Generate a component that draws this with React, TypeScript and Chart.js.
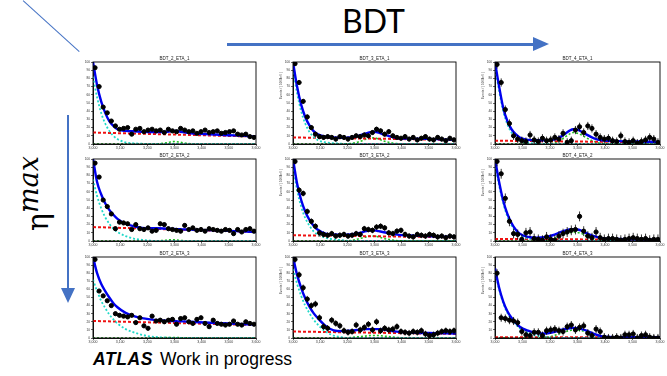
import React, { useEffect, useRef } from "react";
import { Chart, registerables } from "chart.js";

Chart.register(...registerables);

// ---------- axis definitions ----------
const X_MIN = 3000;
const BIN_W = 15;
const N_BINS = 40;
const X_TICKS = [3000, 3100, 3200, 3300, 3400, 3500, 3600];
const Y_TICKS_STEP = 10;
const KNOT_BINS = [0, 1, 2, 3, 4, 5, 6, 8, 10, 12, 14, 16, 18, 19, 20, 21, 22, 24, 26, 30, 35, 40];

// ---------- data (percent of y-range) ----------
const PTS_B2E1 = [93, 70, 45, 38, 28, 22, 18, 19, 20, 12, 18, 19, 15, 17, 18, 16, 17, 14, 18, 16, 15, 19, 17, 15, 16, 13, 15, 17, 14, 15, 16, 13, 14, 15, 16, 12, 11, 12, 9, 8];
const FIT_B2E1 = [100, 72, 52, 38, 28, 22, 18, 16, 15.5, 15, 14.5, 14.5, 15, 15.5, 16, 15.5, 14.5, 13, 12.5, 11.5, 10.5, 9];
const EXP_B2E1 = [82, 57, 38, 25, 16, 10, 6, 2, 0.8, 0.3, 0, 0, 0, 0, 0, 0, 0, 0, 0, 0, 0, 0];
const SIG_B2E1 = [0, 0, 0, 0, 0, 0, 0, 0, 0, 0, 0, 0.3, 1.5, 2.5, 3, 2.5, 1.5, 0.3, 0, 0, 0, 0];
const BKG_B2E1 = [14, 9];

const PTS_B3E1 = [98, 75, 52, 33, 20, 12, 9, 8, 9, 8, 6, 9, 8, 6, 8, 10, 9, 11, 10, 14, 18, 16, 12, 15, 10, 8, 7, 9, 6, 8, 5, 7, 9, 6, 5, 8, 6, 4, 7, 5];
const FIT_B3E1 = [100, 70, 48, 33, 23, 16, 12, 9, 8, 7.5, 8, 10, 13, 14.5, 15, 14, 12, 9, 7, 6.5, 6, 5];
const EXP_B3E1 = [92, 62, 40, 25, 15, 9, 5, 2, 1, 0.3, 0, 0, 0, 0, 0, 0, 0, 0, 0, 0, 0, 0];
const SIG_B3E1 = [0, 0, 0, 0, 0, 0, 0, 0, 0, 0, 0.5, 2.5, 6, 7.5, 7.5, 6, 4, 1.5, 0.3, 0, 0, 0];
const BKG_B3E1 = [8, 5];

const PTS_B4E1 = [97, 75, 42, 25, 10, 6, 4, 3, 11, 5, 3, 7, 4, 5, 8, 6, 13, 2, 4, 17, 21, 14, 22, 19, 12, 8, 6, 7, 4, 3, 10, 3, 2, 4, 1, 3, 5, 8, 6, 2];
const FIT_B4E1 = [100, 70, 44, 28, 18, 12, 8, 5, 4.5, 4.5, 5, 9, 16, 18, 17.5, 15, 12, 7, 4.5, 3.5, 3, 2.5];
const EXP_B4E1 = [95, 65, 40, 24, 14, 8, 4, 1.5, 0.5, 0, 0, 0, 0, 0, 0, 0, 0, 0, 0, 0, 0, 0];
const SIG_B4E1 = [0, 0, 0, 0, 0, 0, 0, 0, 0, 0, 1, 5, 12, 14, 13, 11, 8, 3, 0.5, 0, 0, 0];
const BKG_B4E1 = [4, 2];

const PTS_B2E2 = [95, 78, 50, 42, 33, 15, 23, 22, 21, 14, 20, 15, 14, 16, 12, 13, 21, 20, 15, 14, 13, 12, 19, 14, 16, 13, 14, 12, 15, 14, 13, 12, 14, 13, 9, 14, 11, 14, 15, 12];
const FIT_B2E2 = [100, 72, 57, 46, 38, 32, 27, 21, 18, 16, 15.5, 15.5, 15, 14.8, 14.6, 14.4, 14.2, 14, 13.5, 13, 12, 11];
const EXP_B2E2 = [75, 55, 40, 29, 21, 15, 11, 6, 3, 1.5, 0.5, 0, 0, 0, 0, 0, 0, 0, 0, 0, 0, 0];
const SIG_B2E2 = [0, 0, 0, 0, 0, 0, 0, 0, 0, 0, 0, 0.3, 1, 1.5, 1.5, 1, 0.5, 0, 0, 0, 0, 0];
const BKG_B2E2 = [17, 11];

const PTS_B3E2 = [97, 62, 58, 36, 24, 18, 10, 8, 7, 9, 6, 7, 8, 6, 7, 9, 8, 15, 14, 13, 17, 18, 16, 10, 9, 12, 13, 8, 6, 5, 8, 7, 6, 8, 7, 5, 6, 4, 6, 5];
const FIT_B3E2 = [100, 70, 50, 36, 26, 19, 14, 9, 8, 7.5, 8, 9.5, 12, 13, 13, 12, 11, 9, 7.5, 6.5, 5.5, 5];
const EXP_B3E2 = [92, 62, 42, 28, 19, 12, 8, 4, 2, 1, 0, 0, 0, 0, 0, 0, 0, 0, 0, 0, 0, 0];
const SIG_B3E2 = [0, 0, 0, 0, 0, 0, 0, 0, 0, 0, 0.5, 2.5, 5, 6, 6, 5, 3.5, 1.5, 0.3, 0, 0, 0];
const BKG_B3E2 = [7, 4.5];

const PTS_B4E2 = [97, 82, 52, 24, 9, 8, 2, 10, 11, 3, 2, 1, 5, 2, 1, 6, 9, 11, 13, 14, 30, 12, 6, 4, 11, 4, 2, 3, 3, 2, 1, 2, 3, 4, 3, 2, 3, 1, 2, 2];
const FIT_B4E2 = [100, 72, 49, 33, 22, 14, 9, 5, 4, 4.5, 7, 11, 14, 14.5, 14, 12.5, 10, 6, 3.5, 2.5, 2, 1.5];
const EXP_B4E2 = [95, 68, 46, 30, 19, 12, 7, 3, 1, 0, 0, 0, 0, 0, 0, 0, 0, 0, 0, 0, 0, 0];
const SIG_B4E2 = [0, 0, 0, 0, 0, 0, 0, 0, 0, 0.5, 2.5, 6.5, 10, 11, 10.5, 9, 6.5, 2.5, 0.5, 0, 0, 0];
const BKG_B4E2 = [2.5, 1.5];

const PTS_B2E3 = [97, 58, 52, 46, 40, 30, 28, 27, 26, 28, 19, 25, 15, 12, 27, 21, 22, 20, 22, 23, 17, 24, 25, 20, 18, 23, 25, 18, 14, 22, 18, 17, 16, 17, 21, 17, 16, 20, 18, 17];
const FIT_B2E3 = [100, 80, 67, 58, 50, 43, 38, 31, 27, 24.5, 23, 22, 21.5, 21, 21, 20.5, 20.5, 20, 19.5, 18.5, 17.5, 16.5];
const EXP_B2E3 = [72, 58, 46, 37, 29, 23, 18, 11, 7, 4, 2, 1, 0.5, 0.3, 0.2, 0, 0, 0, 0, 0, 0, 0];
const SIG_B2E3 = [0, 0, 0, 0, 0, 0, 0, 0, 0, 0, 0, 0.2, 0.5, 0.6, 0.6, 0.5, 0.3, 0, 0, 0, 0, 0];
const BKG_B2E3 = [21, 16];

const PTS_B3E3 = [97, 78, 62, 48, 40, 42, 25, 14, 12, 22, 18, 15, 9, 7, 8, 16, 10, 13, 17, 10, 20, 9, 12, 10, 11, 14, 8, 7, 6, 8, 7, 9, 5, 3, 4, 6, 8, 9, 8, 9];
const FIT_B3E3 = [100, 78, 62, 49, 39, 31, 25, 15, 9.5, 8.5, 9, 10, 11, 11, 11, 11, 10.5, 9, 7.5, 6.5, 6, 5.5];
const EXP_B3E3 = [85, 67, 52, 40, 31, 23, 17, 8, 3, 1, 0, 0, 0, 0, 0, 0, 0, 0, 0, 0, 0, 0];
const SIG_B3E3 = [0, 0, 0, 0, 0, 0, 0, 0, 0, 0, 0.5, 1.5, 2.5, 3, 3, 3, 2.5, 1.5, 0.5, 0, 0, 0];
const BKG_B3E3 = [8, 5];

const PTS_B4E3 = [80, 25, 24, 22, 21, 19, 8, 4, 3, 7, 7, 3, 9, 10, 11, 9, 8, 14, 16, 10, 13, 15, 6, 3, 11, 8, 1, 0, 0, 1, 0, 4, 4, 5, 0, 3, 4, 1, 0, 0];
const FIT_B4E3 = [86, 62, 45, 33, 25, 19, 14, 9, 6, 5.5, 7, 10, 12, 12.5, 12, 11, 9.5, 5, 2, 1, 1, 1];
const EXP_B4E3 = [84, 60, 43, 31, 23, 17, 12, 6.5, 3, 1.5, 0.5, 0, 0, 0, 0, 0, 0, 0, 0, 0, 0, 0];
const SIG_B4E3 = [0, 0, 0, 0, 0, 0, 0, 0, 0, 0.5, 2.5, 6, 9, 10, 10, 9, 7.5, 3.5, 1, 0, 0, 0];
const BKG_B4E3 = [1, 1];

const TITLES = [
  "BDT_2_ETA_1", "BDT_3_ETA_1", "BDT_4_ETA_1",
  "BDT_2_ETA_2", "BDT_3_ETA_2", "BDT_4_ETA_2",
  "BDT_2_ETA_3", "BDT_3_ETA_3", "BDT_4_ETA_3",
];
const ERRS = [2, 3, 5, 2.5, 3.5, 6, 2.5, 4, 5];

const PANELS = [
  { pts: PTS_B2E1, fit: FIT_B2E1, exp: EXP_B2E1, sig: SIG_B2E1, bkg: BKG_B2E1 },
  { pts: PTS_B3E1, fit: FIT_B3E1, exp: EXP_B3E1, sig: SIG_B3E1, bkg: BKG_B3E1 },
  { pts: PTS_B4E1, fit: FIT_B4E1, exp: EXP_B4E1, sig: SIG_B4E1, bkg: BKG_B4E1 },
  { pts: PTS_B2E2, fit: FIT_B2E2, exp: EXP_B2E2, sig: SIG_B2E2, bkg: BKG_B2E2 },
  { pts: PTS_B3E2, fit: FIT_B3E2, exp: EXP_B3E2, sig: SIG_B3E2, bkg: BKG_B3E2 },
  { pts: PTS_B4E2, fit: FIT_B4E2, exp: EXP_B4E2, sig: SIG_B4E2, bkg: BKG_B4E2 },
  { pts: PTS_B2E3, fit: FIT_B2E3, exp: EXP_B2E3, sig: SIG_B2E3, bkg: BKG_B2E3 },
  { pts: PTS_B3E3, fit: FIT_B3E3, exp: EXP_B3E3, sig: SIG_B3E3, bkg: BKG_B3E3 },
  { pts: PTS_B4E3, fit: FIT_B4E3, exp: EXP_B4E3, sig: SIG_B4E3, bkg: BKG_B4E3 },
];

// ---------- layout (frame edges of each small plot) ----------
const COL_X = [[93, 258], [293, 458], [495, 662]];
const ROW_Y = [[62, 144], [159, 241], [257, 338]];
const PAD_L = 14, PAD_T = 9, PAD_R = 3, PAD_B = 7;

const binX = (b: number) => X_MIN + b * BIN_W;

function Panel({ idx }: { idx: number }) {
  const ref = useRef<HTMLCanvasElement | null>(null);
  const col = idx % 3, row = Math.floor(idx / 3);
  const [fl, fr] = COL_X[col];
  const [ft, fb] = ROW_Y[row];
  const width = fr - fl + PAD_L + PAD_R;
  const height = fb - ft + PAD_T + PAD_B;

  useEffect(() => {
    const p = PANELS[idx];
    const err = ERRS[idx];
    const title = TITLES[idx];
    const showYTitle = col > 0;
    const pts = p.pts.map((v, i) => ({ x: binX(i + 0.5), y: v }));
    const knots = (arr: number[]) => arr.map((v, i) => ({ x: binX(KNOT_BINS[i]), y: v }));
    const deco = {
      id: "deco",
      afterDatasetsDraw(chart: any) {
        const { ctx, chartArea: a, scales } = chart;
        const xs = scales.x, ys = scales.y;
        ctx.save();
        ctx.strokeStyle = "#000";
        ctx.lineWidth = 0.8;
        const half = (xs.getPixelForValue(binX(1)) - xs.getPixelForValue(binX(0))) / 2;
        ctx.beginPath();
        p.pts.forEach((v, i) => {
          const px = xs.getPixelForValue(binX(i + 0.5));
          const py = ys.getPixelForValue(v);
          const y1 = ys.getPixelForValue(Math.max(0, v - err));
          const y2 = Math.max(a.top, ys.getPixelForValue(v + err));
          ctx.moveTo(px, y1);
          ctx.lineTo(px, y2);
          ctx.moveTo(px - half, py);
          ctx.lineTo(px + half, py);
        });
        ctx.stroke();
        ctx.lineWidth = 0.9;
        ctx.strokeRect(a.left, a.top, a.right - a.left, a.bottom - a.top);
        ctx.fillStyle = "#222";
        ctx.font = "4.5px 'Liberation Sans'";
        ctx.textAlign = "center";
        ctx.textBaseline = "alphabetic";
        ctx.fillText(title, (a.left + a.right) / 2, a.top - 2.5);
        if (showYTitle) {
          ctx.save();
          ctx.translate(a.left - 11.5, a.top + 10);
          ctx.rotate(-Math.PI / 2);
          ctx.textAlign = "right";
          ctx.font = "3.2px 'Liberation Sans'";
          ctx.fillStyle = "#444";
          ctx.fillText("Events / ( 10 MeV )", 0, 0);
          ctx.restore();
        }
        ctx.restore();
      },
    };
    const chart = new Chart(ref.current as HTMLCanvasElement, {
      type: "line",
      data: {
        datasets: [
          { data: pts, showLine: false, pointRadius: 2.1, pointBackgroundColor: "#000", pointBorderColor: "#000", borderColor: "#000", order: 0 },
          { data: knots(p.fit), borderColor: "#0000ee", borderWidth: 2.4, pointRadius: 0, cubicInterpolationMode: "monotone", order: 1 },
          { data: knots(p.exp), borderColor: "#20d8c8", borderDash: [2, 2], borderWidth: 1.8, pointRadius: 0, cubicInterpolationMode: "monotone", order: 2 },
          { data: knots(p.sig), borderColor: "#22c022", borderDash: [2, 2], borderWidth: 1.6, pointRadius: 0, cubicInterpolationMode: "monotone", order: 3 },
          { data: [{ x: binX(0), y: p.bkg[0] }, { x: binX(N_BINS), y: p.bkg[1] }], borderColor: "#ee1111", borderDash: [3, 2], borderWidth: 2, pointRadius: 0, order: 2 },
          { data: [{ x: binX(0), y: 0 }, { x: binX(N_BINS), y: 0 }], borderColor: "#b030d0", borderDash: [2, 2], borderWidth: 1.3, pointRadius: 0, order: 4 },
        ] as any,
      },
      options: {
        responsive: false,
        animation: false,
        devicePixelRatio: 1,
        layout: { padding: { top: PAD_T, right: PAD_R, left: 0, bottom: 0 } },
        plugins: { legend: { display: false }, tooltip: { enabled: false }, title: { display: false } },
        scales: {
          x: {
            type: "linear",
            min: X_MIN,
            max: binX(N_BINS),
            afterBuildTicks: (s: any) => { s.ticks = X_TICKS.map((v) => ({ value: v })); },
            ticks: { font: { size: 3.5, family: "Liberation Sans" }, color: "#333", maxRotation: 0, padding: 0, autoSkip: false },
            grid: { display: true, drawOnChartArea: false, tickLength: 2, color: "#000", lineWidth: 0.6 },
            border: { color: "#000", width: 0.9 },
            afterFit: (s: any) => { s.height = PAD_B; },
          },
          y: {
            min: 0,
            max: 100,
            ticks: { stepSize: Y_TICKS_STEP, font: { size: 3.2, family: "Liberation Sans" }, color: "#333", padding: 1 },
            grid: { display: true, drawOnChartArea: false, tickLength: 2, color: "#000", lineWidth: 0.6 },
            border: { color: "#000", width: 0.9 },
            afterFit: (s: any) => { s.width = PAD_L; },
          },
        },
      } as any,
      plugins: [deco],
    });
    return () => chart.destroy();
  }, [idx]);

  return (
    <canvas
      ref={ref}
      width={width}
      height={height}
      style={{ position: "absolute", left: fl - PAD_L, top: ft - PAD_T, width, height }}
    />
  );
}

const ARROW = "#4472c4";

export default function App() {
  return (
    <div style={{ position: "absolute", left: 0, top: 0, width: 667, height: 376, background: "#fff", overflow: "hidden" }}>
      {/* diagonal line top-left */}
      <div style={{ position: "absolute", left: 23, top: 0, width: 76, height: 1.3, background: ARROW, transform: "rotate(42.3deg)", transformOrigin: "0 50%" }} />
      {/* BDT label & arrow */}
      <div style={{ position: "absolute", left: 342, top: 4.6, fontFamily: "Lato", fontSize: 32, lineHeight: 1, color: "#000" }}>BDT</div>
      <div style={{ position: "absolute", left: 227, top: 42.5, width: 308, height: 3, background: ARROW }} />
      <div style={{ position: "absolute", left: 533, top: 36.5, width: 0, height: 0, borderTop: "7.5px solid transparent", borderBottom: "7.5px solid transparent", borderLeft: `16px solid ${ARROW}` }} />
      {/* eta max label & arrow */}
      <div style={{ position: "absolute", left: 20, top: 231, whiteSpace: "nowrap", fontFamily: "DejaVu Serif", fontSize: 30, lineHeight: "36px", color: "#000", transform: "rotate(-90deg)", transformOrigin: "0 0" }}>
        η<span style={{ fontStyle: "italic", fontSize: 27, position: "relative", top: -10 }}>max</span>
      </div>
      <div style={{ position: "absolute", left: 66.5, top: 115, width: 2.7, height: 175, background: ARROW }} />
      <div style={{ position: "absolute", left: 60.5, top: 288, width: 0, height: 0, borderLeft: "7.5px solid transparent", borderRight: "7.5px solid transparent", borderTop: `15px solid ${ARROW}` }} />
      {TITLES.map((_, i) => (
        <Panel key={i} idx={i} />
      ))}
      <div style={{ position: "absolute", left: 93, top: 351, fontFamily: "Liberation Sans", fontSize: 17.5, lineHeight: 1, fontWeight: "bold", fontStyle: "italic", letterSpacing: 0.6, color: "#000" }}>ATLAS</div>
      <div style={{ position: "absolute", left: 160, top: 351, fontFamily: "Liberation Sans", fontSize: 17.5, lineHeight: 1, color: "#000" }}>Work in progress</div>
    </div>
  );
}
